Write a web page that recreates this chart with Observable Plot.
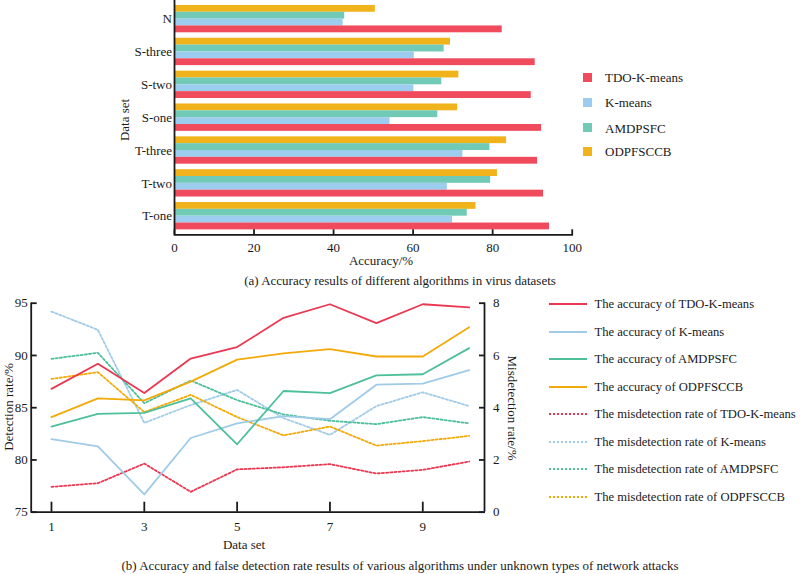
<!DOCTYPE html>
<html>
<head>
<meta charset="utf-8">
<script src="https://cdn.jsdelivr.net/npm/d3@7"></script>
<script src="https://cdn.jsdelivr.net/npm/@observablehq/plot@0.6"></script>
<style>
  html, body { margin: 0; padding: 0; background: #fff; }
  #root { position: relative; width: 800px; height: 574px; overflow: hidden; font-family: "Liberation Serif", "Times New Roman", serif; color: #1a1a1a; }
  .abs { position: absolute; }
  .txt { position: absolute; white-space: nowrap; line-height: 1; font-size: 13px; }
  .c { transform: translate(-50%, -50%); }
  .lc { transform: translate(0, -50%); }
  .rotl { transform: translate(-50%, -50%) rotate(-90deg); }
  .rotr { transform: translate(-50%, -50%) rotate(90deg); }
</style>
</head>
<body>
<div id="root"></div>
<script>
// ---------- Data: (a) accuracy in virus datasets ----------
const datasets = ["N", "S-three", "S-two", "S-one", "T-three", "T-two", "T-one"];
const algorithms = ["ODPFSCCB", "AMDPSFC", "K-means", "TDO-K-means"]; // top-to-bottom inside a group
const legendOrder = ["TDO-K-means", "K-means", "AMDPSFC", "ODPFSCCB"];
const accTDO = [82.4, 90.7, 89.7, 92.3, 91.3, 92.8, 94.3];
const accKmeans = [42.4, 60.3, 60.2, 54.2, 72.5, 68.6, 69.9];
const accAMDPSFC = [42.8, 67.8, 67.2, 66.2, 79.3, 79.5, 73.6];
const accODPFSCCB = [50.5, 69.4, 71.5, 71.2, 83.5, 81.2, 75.8];
const xTicksA = [0, 20, 40, 60, 80, 100];

// ---------- Data: (b) unknown attack types ----------
const setIndex = [1, 2, 3, 4, 5, 6, 7, 8, 9, 10];
const detTDO = [86.8, 89.2, 86.4, 89.7, 90.8, 93.6, 94.9, 93.1, 94.9, 94.6];
const detKmeans = [82.0, 81.3, 76.7, 82.1, 83.5, 84.2, 83.9, 87.2, 87.3, 88.6];
const detAMDPSFC = [83.2, 84.4, 84.5, 85.9, 81.5, 86.6, 86.4, 88.1, 88.2, 90.7];
const detODPFSCCB = [84.1, 85.9, 85.7, 87.5, 89.6, 90.2, 90.6, 89.9, 89.9, 92.7];
const misTDO = [0.97, 1.11, 1.86, 0.78, 1.64, 1.72, 1.84, 1.48, 1.62, 1.94];
const misKmeans = [7.68, 6.98, 3.42, 4.10, 4.68, 3.60, 2.96, 4.06, 4.59, 4.06];
const misAMDPSFC = [5.87, 6.10, 4.17, 5.04, 4.29, 3.74, 3.50, 3.37, 3.64, 3.40];
const misODPFSCCB = [5.10, 5.36, 3.83, 4.49, 3.64, 2.94, 3.28, 2.55, 2.72, 2.92];
const xTicksB = [1, 3, 5, 7, 9];
const leftTicksB = [75, 80, 85, 90, 95];
const rightTicksB = [0, 2, 4, 6, 8];

// ---------- Styles ----------
const barColors = {"TDO-K-means": "#f04a5d", "K-means": "#9dcdee", "AMDPSFC": "#70cab5", "ODPFSCCB": "#f1b31c"};
const lineColors = {"TDO-K-means": "#ea3852", "K-means": "#9fcbe8", "AMDPSFC": "#4dbf9b", "ODPFSCCB": "#f2aa08"};
const FONT = "Liberation Serif, Times New Roman, serif";
const INK = "#1a1a1a";

const root = document.getElementById("root");
function addText(str, x, y, cls, size) {
  const d = document.createElement("div");
  d.className = "txt " + cls;
  d.style.left = x + "px";
  d.style.top = y + "px";
  if (size) d.style.fontSize = size + "px";
  d.textContent = str;
  root.appendChild(d);
  return d;
}
function place(el, left, top) {
  const w = document.createElement("div");
  w.className = "abs";
  w.style.left = left + "px";
  w.style.top = top + "px";
  w.appendChild(el);
  root.appendChild(w);
}

// ================= Chart (a) =================
const accBy = {"TDO-K-means": accTDO, "K-means": accKmeans, "AMDPSFC": accAMDPSFC, "ODPFSCCB": accODPFSCCB};
const barRows = datasets.flatMap((d, i) => algorithms.map(a => ({dataset: d, algorithm: a, value: accBy[a][i]})));

const A = {width: 600, height: 256, mL: 174, mR: 28.3, mT: 0, mB: 21.7, pIn: 0.167, pOut: 0.15};
const band = d3.scaleBand().domain(datasets).range([A.mT, A.height - A.mB]).paddingInner(A.pIn).paddingOuter(A.pOut);
const bw = band.bandwidth();
const sub = bw / algorithms.length;

const chartA = Plot.plot({
  width: A.width, height: A.height,
  marginLeft: A.mL, marginRight: A.mR, marginTop: A.mT, marginBottom: A.mB,
  style: {fontFamily: FONT, fontSize: "13px", color: INK, background: "transparent"},
  x: {domain: [0, 100]},
  y: {domain: datasets, paddingInner: A.pIn, paddingOuter: A.pOut, round: false},
  color: {domain: legendOrder, range: legendOrder.map(k => barColors[k])},
  marks: [
    ...algorithms.map((a, k) => Plot.barX(barRows.filter(r => r.algorithm === a), {
      x: "value", y: "dataset", fill: "algorithm",
      insetTop: k * sub, insetBottom: (algorithms.length - 1 - k) * sub
    })),
    Plot.axisY({tickSize: 0, tickPadding: 2.5, label: null, fontSize: 13}),
    Plot.axisX({ticks: xTicksA, tickSize: -5, tickPadding: 12.5, label: null, strokeWidth: 1.8, fontSize: 13}),
    Plot.ruleX([0], {strokeWidth: 1.8, stroke: INK}),
    Plot.frame({anchor: "bottom", strokeWidth: 1.8, stroke: INK})
  ]
});
place(chartA, 0, 0);

addText("Data set", 124, 120, "rotl");
addText("Accuracy/%", 381, 260, "c");
addText("(a) Accuracy results of different algorithms in virus datasets", 400, 280, "c");

// legend (a)
const legAy = [77.3, 102.3, 127.7, 151];
legendOrder.forEach((k, i) => {
  const sw = document.createElement("div");
  sw.className = "abs";
  sw.style.left = "583px"; sw.style.top = (legAy[i] - 4.5) + "px";
  sw.style.width = "9px"; sw.style.height = "9px";
  sw.style.background = barColors[k];
  root.appendChild(sw);
  addText(k, 605, legAy[i], "lc");
});

// ================= Chart (b) =================
const toLeft = v => 75 + v * 2.5;
const fromLeft = d => (d - 75) / 2.5;
const detBy = {"TDO-K-means": detTDO, "K-means": detKmeans, "AMDPSFC": detAMDPSFC, "ODPFSCCB": detODPFSCCB};
const misBy = {"TDO-K-means": misTDO, "K-means": misKmeans, "AMDPSFC": misAMDPSFC, "ODPFSCCB": misODPFSCCB};
const detRows = legendOrder.flatMap(a => setIndex.map((x, i) => ({x, algorithm: a, y: detBy[a][i]})));
const misRows = legendOrder.flatMap(a => setIndex.map((x, i) => ({x, algorithm: a, y: toLeft(misBy[a][i])})));

const B = {width: 520, height: 250, mL: 30.7, mR: 36, mT: 12.7, mB: 28.3};
const xDomainB = [0.563, 10.33];
const chartB = Plot.plot({
  width: B.width, height: B.height,
  marginLeft: B.mL, marginRight: B.mR, marginTop: B.mT, marginBottom: B.mB,
  style: {fontFamily: FONT, fontSize: "13px", color: INK, background: "transparent"},
  x: {domain: xDomainB},
  y: {domain: [75, 95]},
  color: {domain: legendOrder, range: legendOrder.map(k => lineColors[k])},
  marks: [
    Plot.lineY(misRows, {x: "x", y: "y", z: "algorithm", stroke: "algorithm", strokeWidth: 1.8, strokeDasharray: "2.2,2"}),
    Plot.lineY(detRows, {x: "x", y: "y", z: "algorithm", stroke: "algorithm", strokeWidth: 1.8}),
    Plot.axisX({ticks: xTicksB, tickSize: -10, tickPadding: 20, label: null, strokeWidth: 1.8, fontSize: 13}),
    Plot.axisY({anchor: "left", ticks: leftTicksB, tickSize: -6, tickPadding: 9.5, label: null, strokeWidth: 1.8, fontSize: 13}),
    Plot.axisY({anchor: "right", ticks: rightTicksB.map(toLeft), tickFormat: d => String(Math.round(fromLeft(d))), tickSize: -6, tickPadding: 14.5, label: null, strokeWidth: 1.8, fontSize: 13}),
    Plot.ruleX(xDomainB, {strokeWidth: 1.8, stroke: INK}),
    Plot.ruleY([75], {strokeWidth: 1.8, stroke: INK})
  ]
});
place(chartB, 0, 290);

addText("Detection rate/%", 8, 407, "rotl");
addText("Misdetection rate/%", 512, 407.5, "rotr");
addText("Data set", 244, 544, "c");
addText("(b) Accuracy and false detection rate results of various algorithms under unknown types of network attacks", 400, 565, "c");

// legend (b)
const legBLabels = [
  ...legendOrder.map(k => ({k, dashed: false, text: "The accuracy of " + k})),
  ...legendOrder.map(k => ({k, dashed: true, text: "The misdetection rate of " + k}))
];
legBLabels.forEach((item, i) => {
  const y = 304 + i * 27.5;
  const ln = document.createElement("div");
  ln.className = "abs";
  ln.style.left = "549px"; ln.style.top = (y - 1) + "px";
  ln.style.width = "38px"; ln.style.height = "0px";
  ln.style.borderTop = "2px " + (item.dashed ? "dotted " : "solid ") + lineColors[item.k];
  root.appendChild(ln);
  addText(item.text, 594.5, y, "lc", 12.6);
});
</script>
</body>
</html>
